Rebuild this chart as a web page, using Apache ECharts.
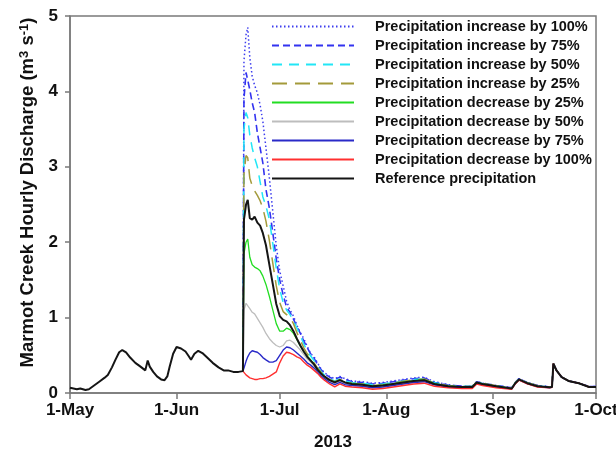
<!DOCTYPE html>
<html>
<head>
<meta charset="utf-8">
<script src="https://cdn.jsdelivr.net/npm/echarts@6/dist/echarts.min.js"></script>
<style>
  html, body { margin: 0; padding: 0; background: #fff; }
  #chart { width: 616px; height: 451px; }
</style>
</head>
<body>
<div id="chart"></div>
<script>
// x values are days since 1 May 2013
const monthDays = [0, 31, 61, 92, 123, 153];
const monthLabels = ['1-May', '1-Jun', '1-Jul', '1-Aug', '1-Sep', '1-Oct'];

// reference run before the June flood (only black line visible)
const preDays = [0, 2, 3, 4.5, 5.5, 7, 8.5, 10, 11, 12.2, 13.2, 14.3, 15.2, 16.3, 17.5, 19, 20.5, 21.9,
  22.3, 22.6, 23.2, 24.2, 25.3, 26.5, 27.5, 28.3, 29, 30, 31, 32.3, 33.6, 34.5, 35.2, 36.2, 37.3,
  38.5, 39.9, 41.5, 43.2, 44.7, 46, 47.5, 49];
const refPre = [0.07, 0.05, 0.06, 0.04, 0.05, 0.10, 0.15, 0.20, 0.24, 0.34, 0.44, 0.54, 0.57, 0.54, 0.47, 0.40, 0.35, 0.30,
  0.31, 0.43, 0.35, 0.28, 0.22, 0.18, 0.17, 0.22, 0.35, 0.52, 0.61, 0.59, 0.55, 0.49, 0.44, 0.52, 0.56,
  0.53, 0.47, 0.40, 0.34, 0.30, 0.30, 0.28, 0.28];

// common days from the flood onwards
const floodDays = [50.3, 50.6, 51.2, 51.7, 52.3, 53.0, 53.7, 54.5, 55.3, 56.1,
  57, 58, 59, 60, 61, 62, 63, 64, 65, 66, 67, 68, 69, 70, 71, 72, 73, 74,
  75.5, 77, 78.5, 80,
  82, 85, 88, 91, 94, 97, 100, 103, 106, 110, 114, 117, 118.3, 120, 124, 128.5, 129.5, 130.6,
  133, 136, 139.5, 140.2, 140.6, 141.5, 143, 145, 148, 151, 153];

const inc100 = [0.29, 4.4, 4.75, 4.85, 4.45, 4.20, 4.08, 3.98, 3.82, 3.60,
  3.25, 2.85, 2.40, 1.95, 1.62, 1.42, 1.22, 1.10, 1.02, 0.90, 0.80, 0.72, 0.62, 0.52, 0.48, 0.40, 0.32, 0.27,
  0.22, 0.19, 0.22, 0.19,
  0.16, 0.15, 0.13, 0.14, 0.16, 0.18, 0.20, 0.21, 0.15, 0.11, 0.09, 0.09, 0.15, 0.13, 0.10, 0.07, 0.14, 0.19,
  0.14, 0.10, 0.08, 0.085, 0.39, 0.30, 0.21, 0.16, 0.13, 0.085, 0.085];
const inc75 = [0.29, 3.9, 4.25, 4.15, 4.02, 3.85, 3.72, 3.45, 3.25, 3.05,
  2.70, 2.45, 2.12, 1.78, 1.50, 1.30, 1.14, 1.07, 0.98, 0.88, 0.79, 0.69, 0.60, 0.52, 0.46, 0.38, 0.31, 0.26,
  0.21, 0.18, 0.21, 0.18,
  0.15, 0.14, 0.12, 0.13, 0.15, 0.17, 0.19, 0.20, 0.14, 0.105, 0.09, 0.09, 0.15, 0.13, 0.10, 0.07, 0.14, 0.19,
  0.14, 0.10, 0.08, 0.085, 0.39, 0.30, 0.21, 0.16, 0.13, 0.085, 0.085];
const inc50 = [0.29, 3.5, 3.72, 3.65, 3.42, 3.25, 3.12, 3.00, 2.80, 2.60,
  2.48, 2.30, 1.98, 1.65, 1.38, 1.20, 1.10, 1.04, 0.96, 0.86, 0.76, 0.65, 0.56, 0.49, 0.43, 0.35, 0.29, 0.24,
  0.19, 0.16, 0.19, 0.16,
  0.14, 0.13, 0.11, 0.12, 0.14, 0.16, 0.18, 0.19, 0.135, 0.10, 0.09, 0.09, 0.145, 0.125, 0.095, 0.065, 0.135, 0.185,
  0.135, 0.095, 0.08, 0.085, 0.39, 0.30, 0.21, 0.16, 0.13, 0.08, 0.08];
const inc25 = [0.29, 2.9, 3.15, 3.12, 2.85, 2.75, 2.68, 2.62, 2.55, 2.45,
  2.28, 2.02, 1.72, 1.42, 1.20, 1.08, 1.04, 1.00, 0.92, 0.80, 0.70, 0.60, 0.52, 0.46, 0.40, 0.33, 0.28, 0.23,
  0.18, 0.15, 0.18, 0.15,
  0.13, 0.12, 0.10, 0.11, 0.13, 0.155, 0.175, 0.185, 0.13, 0.095, 0.085, 0.085, 0.145, 0.125, 0.095, 0.065, 0.135, 0.185,
  0.135, 0.095, 0.08, 0.085, 0.39, 0.30, 0.21, 0.16, 0.13, 0.08, 0.08];
const dec25 = [0.29, 1.85, 2.00, 2.04, 1.80, 1.70, 1.67, 1.65, 1.62, 1.55,
  1.44, 1.28, 1.10, 0.92, 0.82, 0.82, 0.86, 0.84, 0.79, 0.71, 0.62, 0.55, 0.49, 0.44, 0.38, 0.31, 0.26, 0.22,
  0.17, 0.14, 0.17, 0.14,
  0.125, 0.115, 0.095, 0.105, 0.125, 0.145, 0.165, 0.175, 0.125, 0.09, 0.08, 0.08, 0.14, 0.12, 0.09, 0.06, 0.13, 0.18,
  0.13, 0.09, 0.075, 0.08, 0.39, 0.30, 0.21, 0.16, 0.13, 0.08, 0.08];
const dec50 = [0.29, 1.10, 1.19, 1.21, 1.12, 1.07, 1.05, 0.99, 0.93, 0.87,
  0.79, 0.72, 0.67, 0.63, 0.61, 0.63, 0.69, 0.70, 0.67, 0.62, 0.57, 0.51, 0.45, 0.41, 0.36, 0.30, 0.25, 0.21,
  0.16, 0.13, 0.16, 0.13,
  0.11, 0.10, 0.08, 0.09, 0.11, 0.13, 0.15, 0.16, 0.115, 0.085, 0.075, 0.075, 0.135, 0.115, 0.085, 0.06, 0.13, 0.18,
  0.13, 0.09, 0.075, 0.08, 0.39, 0.30, 0.21, 0.16, 0.13, 0.08, 0.08];
const dec75 = [0.29, 0.33, 0.42, 0.48, 0.53, 0.56, 0.55, 0.54, 0.51, 0.47,
  0.44, 0.41, 0.41, 0.43, 0.50, 0.57, 0.61, 0.60, 0.57, 0.53, 0.49, 0.45, 0.40, 0.37, 0.33, 0.28, 0.23, 0.19,
  0.14, 0.11, 0.14, 0.11,
  0.10, 0.09, 0.07, 0.08, 0.10, 0.12, 0.14, 0.15, 0.11, 0.08, 0.07, 0.07, 0.13, 0.11, 0.08, 0.055, 0.125, 0.175,
  0.125, 0.085, 0.07, 0.08, 0.39, 0.30, 0.21, 0.16, 0.13, 0.08, 0.08];
const dec100 = [0.29, 0.27, 0.24, 0.22, 0.20, 0.19, 0.18, 0.18, 0.19, 0.19,
  0.20, 0.22, 0.25, 0.28, 0.40, 0.49, 0.54, 0.53, 0.51, 0.48, 0.46, 0.41, 0.37, 0.34, 0.30, 0.26, 0.21, 0.17,
  0.12, 0.08, 0.12, 0.09,
  0.08, 0.07, 0.05, 0.06, 0.08, 0.10, 0.12, 0.13, 0.09, 0.07, 0.06, 0.06, 0.12, 0.10, 0.07, 0.05, 0.12, 0.17,
  0.12, 0.08, 0.07, 0.075, 0.39, 0.30, 0.21, 0.16, 0.13, 0.08, 0.08];
const reference = [0.29, 2.3, 2.5, 2.56, 2.32, 2.30, 2.34, 2.26, 2.22, 2.12,
  1.96, 1.70, 1.44, 1.18, 1.02, 0.97, 0.95, 0.90, 0.82, 0.72, 0.63, 0.55, 0.48, 0.43, 0.38, 0.31, 0.26, 0.22,
  0.17, 0.14, 0.17, 0.14,
  0.12, 0.11, 0.09, 0.10, 0.12, 0.14, 0.16, 0.17, 0.12, 0.09, 0.08, 0.08, 0.14, 0.12, 0.09, 0.06, 0.13, 0.18,
  0.13, 0.09, 0.075, 0.08, 0.39, 0.30, 0.21, 0.16, 0.13, 0.08, 0.08];

const FONT = "'Liberation Sans', Arial, sans-serif";

function pairs(days, vals) {
  return days.map((d, i) => [d, vals[i]]);
}

function makeLine(name, vals, color, width, type) {
  return {
    name: name,
    type: 'line',
    symbol: 'none',
    showSymbol: false,
    animation: false,
    data: pairs(floodDays, vals),
    lineStyle: { color: color, width: width, type: type || 'solid' },
    itemStyle: { color: color },
  };
}

const series = [
  makeLine('Precipitation increase by 100%', inc100, '#3d3dee', 1.5, [1.5, 2.5]),
  makeLine('Precipitation increase by 75%', inc75, '#3333f0', 1.6, [7, 4]),
  makeLine('Precipitation increase by 50%', inc50, '#22e6f6', 1.5, [10, 7]),
  makeLine('Precipitation increase by 25%', inc25, '#a39a3a', 1.5, [15, 8]),
  makeLine('Precipitation decrease by 25%', dec25, '#22dd22', 1.3),
  makeLine('Precipitation decrease by 50%', dec50, '#bdbdbd', 1.3),
  makeLine('Precipitation decrease by 75%', dec75, '#2a2ac8', 1.4),
  makeLine('Precipitation decrease by 100%', dec100, '#ff3030', 1.4),
];
const refSeries = makeLine('Reference precipitation', reference, '#151515', 2);
refSeries.data = pairs(preDays, refPre).concat(pairs(floodDays, reference));
series.push(refSeries);

const chart = echarts.init(document.getElementById('chart'), null, { renderer: 'canvas' });

chart.setOption({
  animation: false,
  backgroundColor: '#fff',
  grid: {
    left: 70, right: 20, top: 16, bottom: 58,
    outerBoundsMode: 'none',
    containLabel: false,
    show: true, borderColor: '#7a7a7a', borderWidth: 1.5,
  },
  legend: {
    orient: 'vertical',
    left: 271,
    top: 19,
    padding: 0,
    itemWidth: 82,
    itemHeight: 14,
    itemGap: 4,
    data: series.map((s) => s.name),
    itemStyle: { color: 'rgba(0,0,0,0)', borderColor: 'rgba(0,0,0,0)', borderWidth: 0 },
    textStyle: {
      fontFamily: FONT, fontSize: 14.5, fontWeight: 'bold', color: '#111',
      lineHeight: 14, padding: [0, 0, 0, 16],
    },
  },
  xAxis: {
    type: 'value',
    min: 0,
    max: 153,
    name: '2013',
    nameLocation: 'middle',
    nameGap: 41,
    nameTextStyle: { fontFamily: FONT, fontSize: 17, fontWeight: 'bold', color: '#111' },
    axisLine: { onZero: false, lineStyle: { color: '#7a7a7a', width: 1.5 } },
    axisTick: { show: true, inside: false, length: 6, customValues: monthDays, lineStyle: { color: '#7a7a7a', width: 1.5 } },
    axisLabel: {
      customValues: monthDays,
      formatter: (v) => monthLabels[monthDays.indexOf(v)] || '',
      fontFamily: FONT, fontSize: 17, fontWeight: 'bold', color: '#111', margin: 9,
    },
    splitLine: { show: false },
  },
  yAxis: {
    type: 'value',
    min: 0,
    max: 5,
    interval: 1,
    name: 'Marmot Creek Hourly Discharge (m{sup|3} s{sup|-1})',
    nameLocation: 'middle',
    nameGap: 33,
    nameTextStyle: {
      fontFamily: FONT, fontSize: 18.5, fontWeight: 'bold', color: '#111',
      padding: [0, 0, 0, 24],
      rich: {
        sup: { fontFamily: FONT, fontSize: 13, fontWeight: 'bold', color: '#111', verticalAlign: 'top' },
      },
    },
    axisLine: { show: true, lineStyle: { color: '#7a7a7a', width: 1.5 } },
    axisTick: { show: true, inside: false, length: 5, lineStyle: { color: '#7a7a7a', width: 1.5 } },
    axisLabel: { fontFamily: FONT, fontSize: 17, fontWeight: 'bold', color: '#111', margin: 12 },
    splitLine: { show: false },
  },
  series: series,
});
</script>
</body>
</html>
